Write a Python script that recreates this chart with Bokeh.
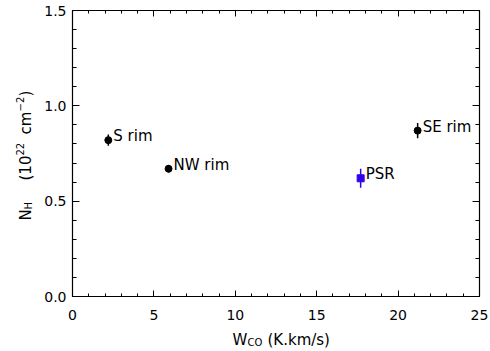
from bokeh.plotting import figure
from bokeh.layouts import row, column
from bokeh.models import (Range1d, LinearAxis, SingleIntervalTicker, ColumnDataSource,
                          LabelSet, CustomJSTickFormatter)
from bokeh.embed import file_html
from bokeh.resources import INLINE
from bokeh.core.properties import value

# ---------------- data ----------------
rim_names = ["S rim", "NW rim", "SE rim"]
rim_wco = [2.2, 5.9, 21.2]
rim_nh = [0.82, 0.67, 0.87]
rim_err = [0.03, 0.02, 0.04]

psr_names = ["PSR"]
psr_wco = [17.7]
psr_nh = [0.62]
psr_err = [0.05]

x_tick_interval = 5
y_tick_interval = 0.5

# axis title pieces; sub/superscripts are placed by the small title panels below
x_title_pieces = ["W", "CO", "(K.km/s)"]
y_title_pieces = ["N", "H", "(10", "22", "cm", "\u22122", ")"]

FONT = "DejaVu Sans"
BLUE = "#3000e8"

rim_src = ColumnDataSource(dict(
    x=rim_wco, y=rim_nh, name=rim_names,
    lo=[v - e for v, e in zip(rim_nh, rim_err)],
    hi=[v + e for v, e in zip(rim_nh, rim_err)],
))
psr_src = ColumnDataSource(dict(
    x=psr_wco, y=psr_nh, name=psr_names,
    lo=[v - e for v, e in zip(psr_nh, psr_err)],
    hi=[v + e for v, e in zip(psr_nh, psr_err)],
))

BT, BB = 10, 30   # top / bottom borders shared by the main plot and y-title panel

p = figure(width=450, height=326,
           x_range=Range1d(0, 25), y_range=Range1d(0, 1.5),
           output_backend="svg", toolbar_location=None,
           x_axis_location=None, y_axis_location=None,
           min_border_left=32, min_border_right=11,
           min_border_top=BT, min_border_bottom=BB)
p.outline_line_color = None
p.background_fill_color = "white"
p.border_fill_color = "white"
p.grid.visible = False


def style_axis(ax, interval, tin, mtin, show_labels, standoff=6):
    ax.ticker = SingleIntervalTicker(interval=interval, num_minor_ticks=5)
    ax.major_tick_in = tin
    ax.major_tick_out = 0
    ax.minor_tick_in = mtin
    ax.minor_tick_out = 0
    ax.axis_line_color = "black"
    ax.axis_line_width = 1.2
    ax.major_tick_line_color = "black"
    ax.minor_tick_line_color = "black"
    if show_labels:
        ax.major_label_text_font = FONT
        ax.major_label_text_font_size = "14px"
        ax.major_label_text_color = "black"
        ax.major_label_standoff = standoff
    else:
        ax.formatter = CustomJSTickFormatter(code="return ''")
        ax.major_label_text_font_size = "0px"
        ax.major_label_standoff = 0


bottom = LinearAxis()
style_axis(bottom, x_tick_interval, 6, 3, True, standoff=13)
top = LinearAxis()
style_axis(top, x_tick_interval, 6, 3, False)
left = LinearAxis()
style_axis(left, y_tick_interval, 7, 4, True, standoff=6)
left.formatter = CustomJSTickFormatter(code="return tick.toFixed(1)")
right = LinearAxis()
style_axis(right, y_tick_interval, 7, 4, False)
p.add_layout(bottom, "below")
p.add_layout(top, "above")
p.add_layout(left, "left")
p.add_layout(right, "right")

# error bars and points
p.segment(x0="x", y0="lo", x1="x", y1="hi", source=rim_src, line_color="black", line_width=1.5)
p.scatter(x="x", y="y", source=rim_src, marker="circle", size=7,
          fill_color="black", line_color="black")
p.segment(x0="x", y0="lo", x1="x", y1="hi", source=psr_src, line_color=BLUE, line_width=1.5)
p.scatter(x="x", y="y", source=psr_src, marker="square", size=7,
          fill_color=BLUE, line_color=BLUE)

for src in (rim_src, psr_src):
    p.add_layout(LabelSet(x="x", y="y", text="name", source=src,
                          x_offset=5, y_offset=-1, text_align="left",
                          text_baseline="alphabetic",
                          text_font=value(FONT), text_font_size="15px", text_color="black"))

# ---------------- y title panel (pixel coordinates of its frame) ----------------
YW, YH = 40, 326
YF = YH - BT - BB
yfig = figure(width=YW, height=YH, x_range=Range1d(0, YW), y_range=Range1d(0, YF),
              output_backend="svg", toolbar_location=None,
              x_axis_location=None, y_axis_location=None,
              min_border_left=0, min_border_right=0,
              min_border_top=BT, min_border_bottom=BB)
yfig.outline_line_color = None
yfig.grid.visible = False
ysrc = ColumnDataSource(dict(
    text=y_title_pieces,
    x=[25, 28, 25, 19, 25, 19, 25],
    y=[76, 87, 116, 141, 162, 185, 200],
    size=["15px", "10px", "15px", "10px", "15px", "10px", "15px"],
))
yfig.text(x="x", y="y", text="text", source=ysrc, angle=90, angle_units="deg",
          text_align="left", text_baseline="alphabetic", text_font=value(FONT),
          text_font_size="size", text_color="black")

# ---------------- x title panel (pixel coordinates) ----------------
XW, XH = 490, 25
xfig = figure(width=XW, height=XH, x_range=Range1d(0, XW), y_range=Range1d(0, XH),
              output_backend="svg", toolbar_location=None,
              x_axis_location=None, y_axis_location=None, min_border=0)
xfig.outline_line_color = None
xfig.grid.visible = False
xsrc = ColumnDataSource(dict(
    text=x_title_pieces,
    x=[232, 247, 267],
    y=[12, 9, 12],
    size=["15px", "10px", "15px"],
))
xfig.text(x="x", y="y", text="text", source=xsrc,
          text_align="left", text_baseline="alphabetic", text_font=value(FONT),
          text_font_size="size", text_color="black")

layout = column(row(yfig, p, spacing=0), xfig, spacing=0)
open("out.html", "w").write(file_html(layout, INLINE))
